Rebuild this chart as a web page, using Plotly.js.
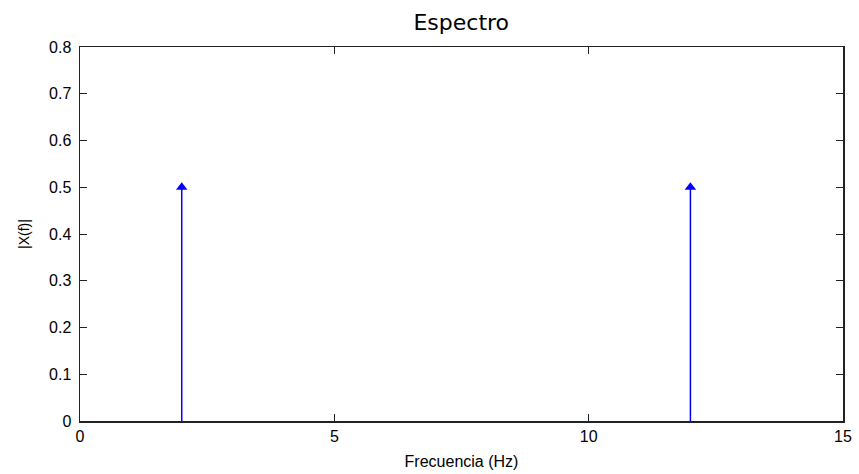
<!DOCTYPE html>
<html>
<head>
<meta charset="utf-8">
<script src="https://cdn.plot.ly/plotly-3.0.1.min.js"></script>
<style>html,body{margin:0;padding:0;background:#fff;} #chart{width:859px;height:474px;}</style>
</head>
<body>
<div id="chart"></div>
<script>
var freqs = [2, 12];
var amps = [0.5, 0.5];
var xTicks = [0, 5, 10, 15];
var yTicks = [0, 0.1, 0.2, 0.3, 0.4, 0.5, 0.6, 0.7, 0.8];
var titleText = 'Espectro';
var xLabel = 'Frecuencia (Hz)';
var yLabel = '|X(f)|';

var lx = [], ly = [];
for (var i = 0; i < freqs.length; i++) {
  lx.push(freqs[i], freqs[i], null);
  ly.push(0, amps[i], null);
}

var stems = {
  x: lx, y: ly, type: 'scatter', mode: 'lines',
  line: {color: '#0000ff', width: 1.5}, hoverinfo: 'skip', showlegend: false
};
var heads = {
  x: freqs, y: amps, type: 'scatter', mode: 'markers',
  marker: {symbol: 'triangle-up', size: 10, color: '#0000ff', line: {width: 0}},
  showlegend: false
};

var tickFont = {family: 'Liberation Sans, Arial, sans-serif', size: 16, color: '#000'};

var layout = {
  width: 859, height: 474,
  margin: {l: 80, r: 16, t: 47, b: 53},
  paper_bgcolor: '#fff', plot_bgcolor: '#fff',
  title: {text: titleText, font: {family: 'DejaVu Sans, Verdana, sans-serif', size: 22, color: '#000'},
          x: 0.537, xanchor: 'center', y: 0.953, yanchor: 'middle'},
  xaxis: {
    range: [0, 15], tickvals: xTicks, ticktext: xTicks.map(String),
    ticks: 'inside', ticklen: 7, tickcolor: '#222', tickwidth: 1,
    showline: true, linecolor: '#222', linewidth: 1.5, mirror: 'ticks',
    showgrid: false, zeroline: false, tickfont: tickFont,
    title: {text: xLabel, font: {family: 'Liberation Sans, Arial, sans-serif', size: 16, color: '#000'}, standoff: 12}
  },
  yaxis: {
    range: [0, 0.8], tickvals: yTicks, ticktext: yTicks.map(String),
    ticks: 'inside', ticklen: 7, tickcolor: '#222', tickwidth: 1,
    showline: true, linecolor: '#222', linewidth: 1.5, mirror: 'ticks',
    showgrid: false, zeroline: false, tickfont: tickFont, ticklabelstandoff: 4,
    title: {text: yLabel, font: {family: 'Liberation Sans, Arial, sans-serif', size: 14, color: '#000'}, standoff: 16}
  }
};

Plotly.newPlot('chart', [stems, heads], layout, {staticPlot: true, displayModeBar: false});
</script>
</body>
</html>
